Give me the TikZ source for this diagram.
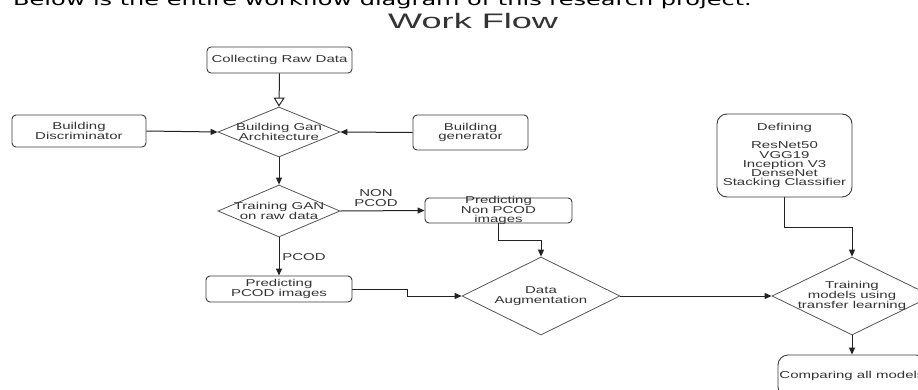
\documentclass[tikz,border=0pt]{standalone}
\usepackage{fontspec}
\setmainfont{Liberation Sans}
\newfontfamily\diagf[FakeStretch=1.5]{Liberation Sans}
\newfontfamily\titlef[FakeStretch=1.72]{Liberation Sans}
\newfontfamily\topf[FakeStretch=1.5]{DejaVu Sans}
\usetikzlibrary{shapes.geometric,arrows.meta}
\definecolor{boxc}{HTML}{3A3A3A}
\definecolor{diac}{HTML}{555555}
\definecolor{linec}{HTML}{222222}
\definecolor{txtc}{HTML}{333333}
\begin{document}
\begin{tikzpicture}[x=1pt,y=-1pt,
  box/.style={draw=boxc, line width=0.9pt, rounded corners=4pt, inner sep=0pt},
  bigbox/.style={draw=boxc, line width=0.9pt, rounded corners=10pt, inner sep=0pt},
  dia/.style={draw=diac, line width=0.8pt, diamond, inner sep=0pt},
  lbl/.style={font=\diagf\fontsize{10}{9.3}\selectfont, align=center, inner sep=0pt, text=txtc},
  conn/.style={draw=linec, line width=1pt, -{Triangle[length=7pt,width=6pt]}},
  openconn/.style={draw=linec, line width=1pt, -{Triangle[open, length=9pt, width=11pt]}}
]
\useasboundingbox (0,0) rectangle (918,389);
\clip (0,0) rectangle (918,389);

\node[anchor=base west, font=\topf\fontsize{16}{16}\selectfont, inner sep=0pt] (intro) at (13,5) {Below is the entire workflow diagram of this research project.};
\node[anchor=base west, font=\titlef\fontsize{21}{21}\selectfont, inner sep=0pt, text=txtc] (title) at (388,28) {Work Flow};

% boxes
\node[box, minimum width=145pt, minimum height=26pt, label={[lbl]center:Collecting Raw Data}] (raw) at (279.5,60) {};
\node[box, minimum width=134pt, minimum height=32pt, label={[lbl]center:Building\\Discriminator}] (disc) at (79,131) {};
\node[box, minimum width=115pt, minimum height=35pt, label={[lbl]center:Building\\generator}] (gen) at (470.5,132.5) {};
\node[box, minimum width=147pt, minimum height=25pt, label={[lbl]center:Predicting\\Non PCOD\\images}] (nonp) at (498.5,210.5) {};
\node[box, minimum width=146pt, minimum height=26pt, label={[lbl]center:Predicting\\PCOD images}] (pcod) at (279,289) {};
\node[bigbox, minimum width=135pt, minimum height=83pt, label={[lbl]center:Defining\\[9.3pt]ResNet50\\VGG19\\Inception V3\\DenseNet\\Stacking Classifier}] (def) at (784.5,155.5) {};
\node[bigbox, minimum width=148pt, minimum height=42pt, label={[lbl]center:Comparing all models}] (comp) at (852,376) {};

% diamonds
\node[dia, minimum width=122pt, minimum height=50pt, label={[lbl]center:Building Gan\\Architecture}] (gan) at (279,132) {};
\node[dia, minimum width=122pt, minimum height=52pt, label={[lbl]center:Training GAN\\on raw data}] (train) at (279,211) {};
\node[dia, minimum width=158pt, minimum height=78pt, label={[lbl]center:Data\\Augmentation}] (aug) at (541,296) {};
\node[dia, minimum width=160pt, minimum height=78pt, label={[lbl]center:Training\\models using\\transfer learning}] (trainm) at (852,296) {};

% labels
\node[lbl] (lnon) at (376,198) {NON\\PCOD};
\node[lbl] (lpcod) at (304,257) {PCOD};

% connectors
\draw[openconn] (raw.south) -- (gan.north);
\draw[conn] (disc.east) -- (gan.west);
\draw[conn] (gen.west) -- (gan.east);
\draw[conn] (gan.south) -- (train.north);
\draw[conn] (train.east) -- (nonp.west);
\draw[conn] (train.south) -- (pcod.north);
\coordinate (n1) at (498.5,240);
\coordinate (n2) at (541,240);
\draw[conn] (nonp.south) -- (n1) -- (n2) -- (aug.north);
\coordinate (p1) at (407,289);
\coordinate (p2) at (407,296);
\draw[conn] (pcod.east) -- (p1) -- (p2) -- (aug.west);
\draw[conn] (aug.east) -- (trainm.west);
\coordinate (d1) at (784.5,227);
\coordinate (d2) at (852,227);
\draw[conn] (def.south) -- (d1) -- (d2) -- (trainm.north);
\draw[conn] (trainm.south) -- (comp.north);
\end{tikzpicture}
\end{document}
